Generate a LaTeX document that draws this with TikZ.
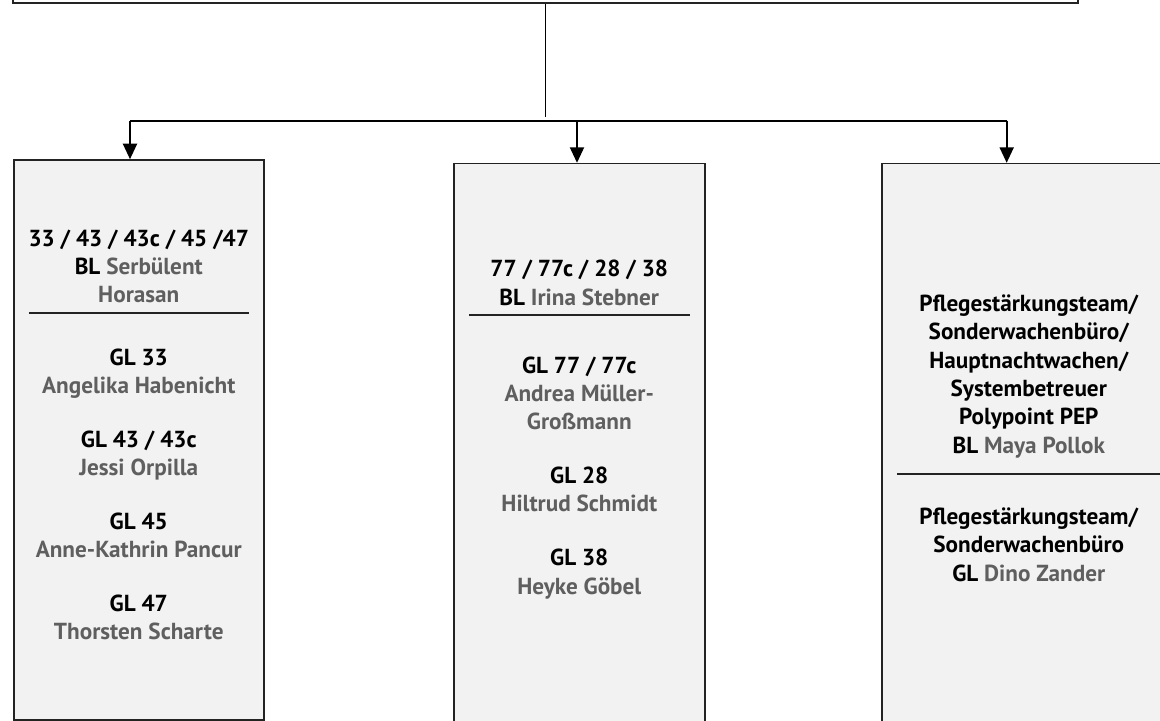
\documentclass[tikz,border=0pt]{standalone}
\usepackage{fontspec}
\setmainfont{PT Sans}
\usepackage{tikz}
\usetikzlibrary{arrows.meta, calc, positioning}
\usepackage{xcolor}
\definecolor{framegray}{RGB}{35, 35, 35}
\definecolor{namegray}{RGB}{95, 95, 95}
\definecolor{shadegray}{RGB}{242, 242, 242}
\newcommand{\who}[1]{\textcolor{namegray}{#1}}

\begin{document}
\begin{tikzpicture}[
  unit/.style={draw=framegray, fill=shadegray, line width=1.1pt,
               minimum height=15cm, anchor=north west},
  lbl/.style={align=center, anchor=base,
              font=\bfseries\fontsize{16.5}{20.1}\selectfont},
  sep/.style={framegray, line width=1.2pt},
  arr/.style={-{Triangle[length=11pt, width=10pt]}, black, line width=1.2pt}
]
  \useasboundingbox (0,0) rectangle (29,-18);
  % top level, cut off by the page
  \node[draw=framegray, line width=1.4pt, minimum width=26.625cm,
        minimum height=2cm, anchor=south] (head) at (13.6375,-0.0875) {};
  % the three units
  \node[unit, minimum width=6.25cm, minimum height=14cm] (left) at (0.325,-3.98) {};
  \node[unit, minimum width=6.275cm] (mid) at (11.325,-4.07) {};
  \node[unit, minimum width=7.35cm] (right) at (22.025,-4.07) {};

  % left unit (base = last line)
  \node[lbl] (leftBL) at ($(left.north)+(0,-3.5925)$)
    {33 / 43 / 43c / 45 /47\\BL \who{Serbülent}\\\who{Horasan}};
  \draw[sep] ($(left.north west)+(0.4,-3.84)$) -- ($(left.north east)+(-0.4,-3.84)$);
  \node[lbl] (leftGL) at ($(left.north)+(0,-12.0175)$)
    {GL 33\\\who{Angelika Habenicht}\\[0.64cm]
     GL 43 / 43c\\\who{Jessi Orpilla}\\[0.64cm]
     GL 45\\\who{Anne-Kathrin Pancur}\\[0.64cm]
     GL 47\\\who{Thorsten Scharte}};

  % middle unit
  \node[lbl] (midBL) at ($(mid.north)+(0,-3.555)$)
    {77 / 77c / 28 / 38\\BL \who{Irina Stebner}};
  \draw[sep] ($(mid.north west)+(0.4,-3.805)$) -- ($(mid.north east)+(-0.4,-3.805)$);
  \node[lbl] (midGL) at ($(mid.north)+(0,-10.78)$)
    {GL 77 / 77c\\\who{Andrea Müller-}\\\who{Großmann}\\[0.64cm]
     GL 28\\\who{Hiltrud Schmidt}\\[0.64cm]
     GL 38\\\who{Heyke Göbel}};

  % right unit
  \node[lbl] (rightBL) at ($(right.north)+(0,-7.255)$)
    {Pflegestärkungsteam/\\Sonderwachenbüro/\\Hauptnachtwachen/\\Systembetreuer\\Polypoint PEP\\BL \who{Maya Pollok}};
  \draw[sep] ($(right.north west)+(0.4,-7.78)$) -- ($(right.north east)+(-0.4,-7.78)$);
  \node[lbl] (rightGL) at ($(right.north)+(0,-10.455)$)
    {Pflegestärkungsteam/\\Sonderwachenbüro\\GL \who{Dino Zander}};

  % connectors
  \coordinate (drop) at (13.6375,-2.925);
  \coordinate (busL) at (3.25,-3.0175);
  \coordinate (busM) at (14.425,-3.0175);
  \coordinate (busR) at (25.167,-3.0175);
  \draw[line width=0.9pt] (head.south) -- (drop);
  \draw[line width=1.2pt] (busL) -- (busR);
  \draw[arr] (busL) -- (busL |- left.north);
  \draw[arr] (busM) -- (busM |- mid.north);
  \draw[arr] (busR) -- (busR |- right.north);
\end{tikzpicture}
\end{document}
